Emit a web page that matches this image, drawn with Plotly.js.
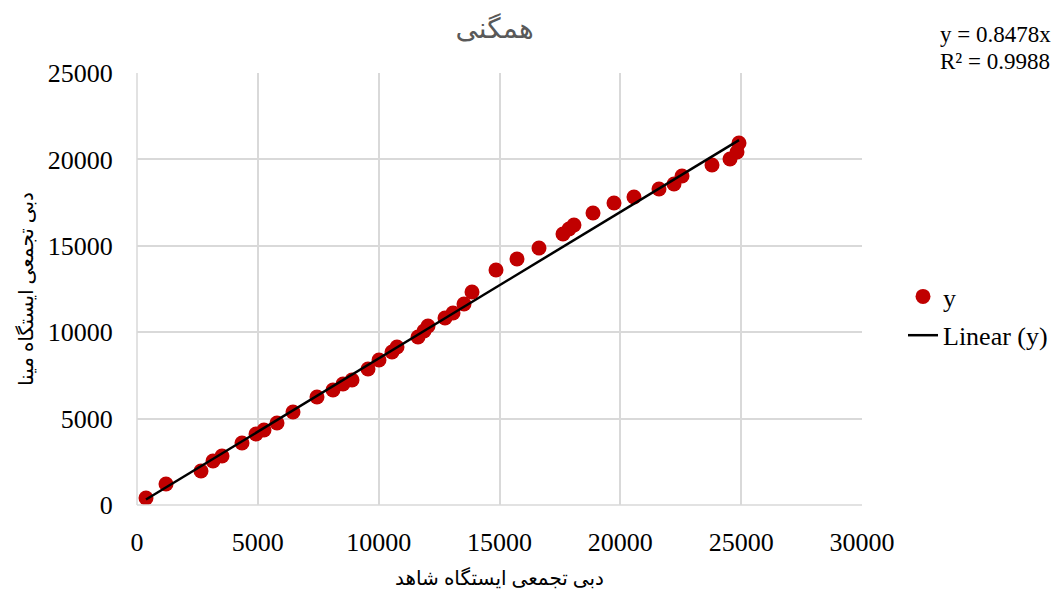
<!DOCTYPE html>
<html>
<head>
<meta charset="utf-8">
<script src="https://cdn.plot.ly/plotly-3.0.1.min.js"></script>
<style>html,body{margin:0;padding:0;background:#fff;}#chart{width:1059px;height:594px;}</style>
</head>
<body>
<div id="chart"></div>
<script>
const xValues = [372, 1200, 2648, 3145, 3517, 4345, 4924, 5255, 5793, 6455, 7448, 8110, 8524, 8897, 9559, 10014, 10552, 10759, 11628, 11876, 12041, 12745, 13076, 13531, 13862, 14855, 15724, 16634, 17627, 17876, 18082, 18869, 19738, 20565, 21600, 22221, 22552, 23793, 24538, 24828, 24910];
const yValues = [405, 1215, 1968, 2546, 2836, 3588, 4109, 4340, 4745, 5382, 6250, 6655, 7002, 7234, 7870, 8391, 8854, 9143, 9722, 10069, 10358, 10821, 11111, 11632, 12326, 13599, 14236, 14872, 15682, 15972, 16203, 16898, 17476, 17824, 18287, 18576, 19039, 19676, 20023, 20428, 20949];
const slope = 0.8478;
const r2 = 0.9988;
const xTicks = [0, 5000, 10000, 15000, 20000, 25000, 30000];
const yTicks = [0, 5000, 10000, 15000, 20000, 25000];
const titleText = 'همگنی';
const xTitle = 'دبی تجمعی ایستگاه شاهد';
const yTitle = 'دبی تجمعی ایستگاه مینا';

const xMin = Math.min(...xValues), xMax = Math.max(...xValues);
const serif = 'Liberation Serif, DejaVu Serif, DejaVu Sans, serif';

const data = [
  {x: xValues, y: yValues, type: 'scatter', mode: 'markers', name: 'y',
   marker: {color: '#C00000', size: 15}, legendgroup: 'a'},
  {x: [xMin, xMax], y: [slope * xMin, slope * xMax], type: 'scatter', mode: 'lines',
   name: 'Linear (y)', line: {color: '#000000', width: 2.5}, legendgroup: 'b'}
];

const layout = {
  width: 1059, height: 594,
  margin: {l: 137, r: 197, t: 73, b: 89, autoexpand: false},
  paper_bgcolor: '#ffffff', plot_bgcolor: '#ffffff',
  showlegend: true,
  title: {text: titleText, x: 0.467, xanchor: 'center', y: 0.952, yanchor: 'middle',
          font: {family: 'DejaVu Sans, Liberation Sans, sans-serif', size: 28, color: '#595959'}},
  xaxis: {range: [0, 30000], tickvals: xTicks, ticktext: xTicks.map(String),
          showgrid: true, gridcolor: '#d9d9d9', gridwidth: 1.5, zeroline: false, showline: false,
          ticks: 'outside', ticklen: 14, tickcolor: 'rgba(0,0,0,0)',
          tickfont: {family: serif, size: 26, color: '#000'},
          title: {text: xTitle, standoff: 14, font: {family: serif, size: 20, color: '#000'}}},
  yaxis: {range: [0, 25000], tickvals: yTicks, ticktext: yTicks.map(String),
          showgrid: true, gridcolor: '#d9d9d9', gridwidth: 1.5, zeroline: false, showline: false,
          ticks: 'outside', ticklen: 18, tickcolor: 'rgba(0,0,0,0)',
          tickfont: {family: serif, size: 26, color: '#000'},
          title: {text: yTitle, standoff: 8, font: {family: serif, size: 20, color: '#000'}}},
  legend: {x: (903 - 137) / 725, y: (505 - 273) / 432, xanchor: 'left', yanchor: 'top', traceorder: 'grouped',
           tracegroupgap: 2, font: {family: serif, size: 26, color: '#000'}, bgcolor: 'rgba(0,0,0,0)'},
  shapes: [
    {type: 'line', xref: 'paper', yref: 'paper', x0: 0, x1: 0, y0: 0, y1: 1, line: {color: '#d9d9d9', width: 1.5}},
    {type: 'line', xref: 'paper', yref: 'paper', x0: 0, x1: 1, y0: 0, y1: 0, line: {color: '#d9d9d9', width: 1.5}}
  ],
  annotations: [
    {xref: 'paper', yref: 'paper', x: (938 - 137) / 725, y: (505 - 35) / 432, xanchor: 'left', yanchor: 'middle',
     showarrow: false, text: 'y = ' + slope + 'x',
     font: {family: serif, size: 23, color: '#000'}},
    {xref: 'paper', yref: 'paper', x: (938 - 137) / 725, y: (505 - 61) / 432, xanchor: 'left', yanchor: 'middle',
     showarrow: false, text: 'R² = ' + r2,
     font: {family: serif, size: 23, color: '#000'}}
  ]
};

Plotly.newPlot('chart', data, layout, {displayModeBar: false, responsive: false});
</script>
</body>
</html>
